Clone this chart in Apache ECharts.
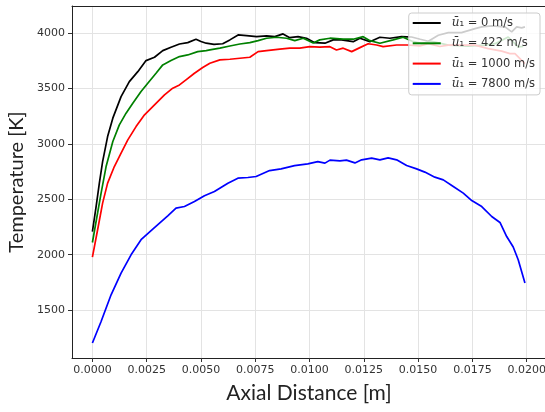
<!DOCTYPE html>
<html>
<head>
<meta charset="utf-8">
<script src="https://cdn.jsdelivr.net/npm/echarts@6/dist/echarts.min.js"></script>
<style>html,body{margin:0;padding:0;background:#fff}#c{width:545px;height:412px}</style>
</head>
<body>
<div id="c"></div>
<script>
// ---- data ----
const xTicks = [0, 0.0025, 0.005, 0.0075, 0.01, 0.0125, 0.015, 0.0175, 0.02];
const yTicks = [1500, 2000, 2500, 3000, 3500, 4000];
const seriesNames = ['ū₁ = 0 m/s', 'ū₁ = 422 m/s', 'ū₁ = 1000 m/s', 'ū₁ = 7800 m/s'];
const seriesColors = ['#000000', '#008000', '#ff0000', '#0000ff'];

const xU0 = [0, 0.00017, 0.00032, 0.00047, 0.0007, 0.00094, 0.00132, 0.0017, 0.00209, 0.00247, 0.00286, 0.00324, 0.00362, 0.00401, 0.00439, 0.00477, 0.00500, 0.00524, 0.00560, 0.00600, 0.00633, 0.00671, 0.0071, 0.00756, 0.00802, 0.0084, 0.00878, 0.00909, 0.00947, 0.00986, 0.01024, 0.01071, 0.01109, 0.01147, 0.01201, 0.01232, 0.01278, 0.01324, 0.0137, 0.01424, 0.01470, 0.01510, 0.01547, 0.01593, 0.01639, 0.017, 0.01762, 0.01793, 0.01839, 0.019, 0.01931, 0.01954, 0.01977, 0.01992];
const tU0 = [2209, 2435, 2646, 2841, 3067, 3233, 3428, 3563, 3653, 3753, 3783, 3843, 3874, 3903, 3915, 3946, 3925, 3910, 3900, 3905, 3940, 3985, 3978, 3969, 3976, 3969, 3994, 3960, 3969, 3955, 3915, 3910, 3940, 3940, 3924, 3955, 3924, 3964, 3955, 3969, 3966, 3946, 3928, 3982, 4005, 4005, 4042, 4057, 4066, 4057, 4012, 4057, 4048, 4057];

const xU422 = [0, 0.00021, 0.0004, 0.00063, 0.00094, 0.00124, 0.00155, 0.00186, 0.00224, 0.00255, 0.00293, 0.00324, 0.00362, 0.00401, 0.00439, 0.00485, 0.00524, 0.00541, 0.00587, 0.00633, 0.00679, 0.00725, 0.00763, 0.00802, 0.00848, 0.00894, 0.00932, 0.00971, 0.01017, 0.01047, 0.01094, 0.01155, 0.01201, 0.01247, 0.01278, 0.01324, 0.01385, 0.01431, 0.01470, 0.01516, 0.01562, 0.01639, 0.01731, 0.01808, 0.01854, 0.01915, 0.01938, 0.01961, 0.01984];
const tU422 = [2110, 2345, 2556, 2796, 3022, 3172, 3278, 3368, 3473, 3549, 3639, 3714, 3753, 3789, 3804, 3834, 3843, 3849, 3865, 3885, 3903, 3915, 3933, 3955, 3964, 3955, 3933, 3955, 3912, 3940, 3955, 3946, 3946, 3969, 3933, 3910, 3940, 3964, 3930, 3906, 3928, 3892, 3883, 3892, 3906, 3966, 3921, 3876, 3880];

const xU1000 = [0, 0.00024, 0.00047, 0.0007, 0.00101, 0.00132, 0.00163, 0.00201, 0.0024, 0.00286, 0.00332, 0.0037, 0.00401, 0.00431, 0.0047, 0.00508, 0.00541, 0.00587, 0.00633, 0.00679, 0.00725, 0.00763, 0.00802, 0.00863, 0.00909, 0.00955, 0.01001, 0.01047, 0.01094, 0.01124, 0.01155, 0.01194, 0.01232, 0.0127, 0.01309, 0.01339, 0.01401, 0.01450, 0.01508, 0.01547, 0.01600, 0.01639, 0.01700, 0.01762, 0.01823, 0.01885, 0.01923, 0.01946, 0.01969, 0.01992];
const tU1000 = [1978, 2225, 2466, 2646, 2796, 2917, 3037, 3157, 3263, 3353, 3443, 3504, 3533, 3579, 3639, 3690, 3729, 3759, 3765, 3774, 3783, 3834, 3843, 3856, 3865, 3865, 3879, 3874, 3879, 3849, 3865, 3834, 3870, 3905, 3894, 3879, 3894, 3894, 3885, 3906, 3880, 3892, 3892, 3892, 3861, 3838, 3816, 3816, 3771, 3725];

const xU7800 = [0, 0.0004, 0.00086, 0.00132, 0.00178, 0.00224, 0.00278, 0.00347, 0.00385, 0.00424, 0.0047, 0.00516, 0.00562, 0.00624, 0.0067, 0.00716, 0.00754, 0.00816, 0.00869, 0.00931, 0.00992, 0.01038, 0.01071, 0.01094, 0.0114, 0.0117, 0.01209, 0.0124, 0.01286, 0.01324, 0.01362, 0.01401, 0.01447, 0.01493, 0.01531, 0.01577, 0.01616, 0.01662, 0.01708, 0.01747, 0.01793, 0.01839, 0.01877, 0.01908, 0.01938, 0.01961, 0.01992];
const tU7800 = [1202, 1397, 1638, 1834, 1999, 2135, 2231, 2351, 2421, 2435, 2480, 2532, 2570, 2646, 2691, 2697, 2706, 2760, 2775, 2805, 2820, 2841, 2827, 2854, 2848, 2854, 2829, 2857, 2872, 2857, 2875, 2857, 2805, 2775, 2746, 2700, 2676, 2616, 2556, 2489, 2435, 2345, 2291, 2164, 2069, 1954, 1744];

const xAll = [xU0, xU422, xU1000, xU7800];
const tAll = [tU0, tU422, tU1000, tU7800];

// ---- chart ----
const chart = echarts.init(document.getElementById('c'), null, {renderer: 'canvas'});
const pairs = (xs, ts) => xs.map((x, i) => [x, ts[i]]);
const tickFont = {fontFamily: 'DejaVu Sans', fontSize: 11, color: '#333'};

chart.setOption({
  animation: false,
  backgroundColor: '#fff',
  grid: {left: 72, top: 6, right: -1, bottom: 54, containLabel: false, outerBoundsMode: 'none'},
  xAxis: [{
    type: 'value', min: -0.00094, max: 0.02089,
    name: 'Axial Distance [m]', nameLocation: 'middle', nameGap: 25,
    nameTextStyle: {fontFamily: 'Lato', fontSize: 21, color: '#222'},
    axisLine: {show: true, onZero: false, lineStyle: {color: '#222', width: 1}},
    axisTick: {show: true, customValues: xTicks, length: 4, lineStyle: {color: '#333'}},
    axisLabel: Object.assign({customValues: xTicks, margin: 7, formatter: v => v.toFixed(4)}, tickFont),
    splitLine: {show: true, customValues: xTicks, lineStyle: {color: '#e3e3e3', width: 1}}
  }, {
    type: 'value', position: 'top', min: -0.00094, max: 0.02089,
    axisLine: {show: true, onZero: false, lineStyle: {color: '#222', width: 1}},
    axisTick: {show: false}, axisLabel: {show: false}, splitLine: {show: false}
  }],
  yAxis: {
    type: 'value', min: 1067, max: 4246,
    name: 'Temperature [K]', nameLocation: 'middle', nameGap: 45,
    nameTextStyle: {fontFamily: 'Lato', fontSize: 20, color: '#222'},
    axisLine: {show: true, onZero: false, lineStyle: {color: '#222', width: 1}},
    axisTick: {show: true, customValues: yTicks, length: 4, lineStyle: {color: '#333'}},
    axisLabel: Object.assign({customValues: yTicks, margin: 7, formatter: v => String(v)}, tickFont),
    splitLine: {show: true, customValues: yTicks, lineStyle: {color: '#e3e3e3', width: 1}}
  },
  legend: {
    orient: 'vertical', right: 5, top: 13,
    icon: 'rect', itemWidth: 28, itemHeight: 2, itemGap: 6.3,
    padding: [3, 5, 4, 4],
    backgroundColor: 'rgba(255,255,255,0.8)', borderColor: '#ccc', borderWidth: 1, borderRadius: 3,
    formatter: n => '{u|ū}{s|₁}{t|' + n.slice(2) + '}',
    textStyle: {
      fontFamily: 'DejaVu Sans', fontSize: 11.5, color: '#333', lineHeight: 14, padding: [0, 0, 0, 6],
      rich: {
        u: {fontFamily: 'DejaVu Serif', fontStyle: 'italic', fontSize: 12, color: '#333', lineHeight: 14},
        s: {fontFamily: 'DejaVu Sans', fontSize: 11.5, color: '#333', lineHeight: 14},
        t: {fontFamily: 'DejaVu Sans', fontSize: 11.5, color: '#333', lineHeight: 14}
      }
    },
    data: seriesNames
  },
  series: seriesNames.map((n, i) => ({
    name: n, type: 'line', xAxisIndex: 0, showSymbol: false, symbol: 'none',
    data: pairs(xAll[i], tAll[i]),
    lineStyle: {color: seriesColors[i], width: 1.7},
    itemStyle: {color: seriesColors[i]},
    z: 2
  }))
});
</script>
</body>
</html>
